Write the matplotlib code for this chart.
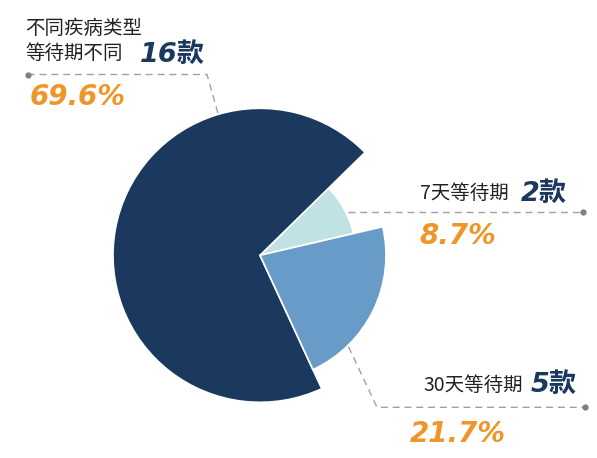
import matplotlib
matplotlib.use("Agg")
import matplotlib.pyplot as plt

# data (light, dark, medium), drawn counterclockwise
labels = ["7天等待期", "不同疾病类型\n等待期不同", "30天等待期"]
counts = [2, 16, 5]
pcts = ["8.7%", "69.6%", "21.7%"]
colors = ["#c0e2e4", "#1b385e", "#689bc8"]
radii = [96, 147, 126]

W, H = 597, 458
CJK = ["Noto Sans CJK SC", "DejaVu Sans"]
NUM = ["DejaVu Sans", "Noto Sans CJK SC"]
navy = "#1b385e"
orange = "#f0952a"
grey = "#a0a0a0"

fig = plt.figure(figsize=(W / 100, H / 100), dpi=100)
ax = fig.add_axes([0, 0, 1, 1])

# y axis points down, so go clockwise in data space to look counterclockwise
wedges, _ = ax.pie(counts, colors=colors, startangle=-13.1, counterclock=False,
                   center=(260, 255.3), frame=False,
                   wedgeprops=dict(edgecolor="white", linewidth=1.2))
for w, r in zip(wedges, radii):
    w.set_radius(r)
    w.set_zorder(3)

ax.set_xlim(0, W)
ax.set_ylim(H, 0)
ax.set_aspect("equal")
ax.axis("off")

dash = dict(color=grey, lw=1.0, linestyle=(0, (5, 3.5)), zorder=1)
lab_kw = dict(fontsize=14, family=CJK, color="#222222", va="center")
cnt_kw = dict(fontsize=19.5, family=NUM, weight="heavy", style="italic",
              color=navy, va="center")
pct_kw = dict(fontsize=20, family=NUM, weight="bold", style="italic",
              color=orange, va="center")

# --- top left group
ax.plot([27.7, 207, 219], [74.5, 74.5, 117], **dash)
ax.plot([27.7], [74.5], "o", color="#808080", ms=3.5, zorder=2)
ax.text(25, 41, labels[1], linespacing=1.3, **lab_kw)
ax.text(140, 55, f"{counts[1]}款", **cnt_kw)
ax.text(30, 97, pcts[1], **pct_kw)

# --- right middle group
ax.plot([348, 583], [211.7, 211.7], **dash)
ax.plot([583], [211.7], "o", color="#808080", ms=3.5, zorder=2)
ax.text(420, 193.5, labels[0], **lab_kw)
ax.text(521, 193.5, f"{counts[0]}款", **cnt_kw)
ax.text(419, 236, pcts[0], **pct_kw)

# --- bottom right group
ax.plot([348.5, 377, 585], [346.7, 407.3, 407.3], **dash)
ax.plot([585], [407.3], "o", color="#808080", ms=3.5, zorder=2)
ax.text(423, 385, labels[2], **lab_kw)
ax.text(531, 385, f"{counts[2]}款", **cnt_kw)
ax.text(410, 433.5, pcts[2], **pct_kw)

fig.savefig("out.png", dpi=100, facecolor="white")
